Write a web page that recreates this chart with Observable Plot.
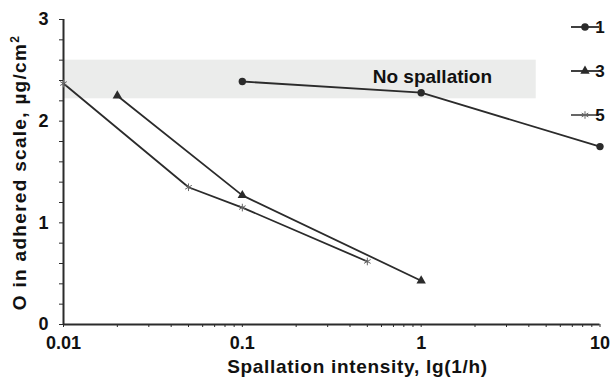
<!DOCTYPE html>
<html>
<head>
<meta charset="utf-8">
<script src="https://cdn.jsdelivr.net/npm/d3@7"></script>
<script src="https://cdn.jsdelivr.net/npm/@observablehq/plot@0.6"></script>
<style>
  html, body { margin: 0; padding: 0; background: #fff; }
</style>
</head>
<body>
<div id="chart"></div>
<script>
// Series 1 (circles)
const s1X = [0.1, 1, 10];
const s1Y = [2.39, 2.28, 1.75];
// Series 3 (triangles)
const s3X = [0.02, 0.1, 1];
const s3Y = [2.25, 1.27, 0.43];
// Series 5 (asterisks)
const s5X = [0.01, 0.05, 0.1, 0.5];
const s5Y = [2.37, 1.35, 1.15, 0.62];
// Legend labels
const seriesNames = ["1", "3", "5"];
// "No spallation" band
const bandX = [0.01, 4.4];
const bandY = [2.22, 2.6];
const bandLabel = "No spallation";
// Axis ticks
const yTicks = [0, 1, 2, 3];
const yMinor = [0.2, 0.4, 0.6, 0.8, 1.2, 1.4, 1.6, 1.8, 2.2, 2.4, 2.6, 2.8];
const xTicks = [0.01, 0.1, 1, 10];
const xMinor = [0.02,0.03,0.04,0.05,0.06,0.07,0.08,0.09,0.2,0.3,0.4,0.5,0.6,0.7,0.8,0.9,2,3,4,5,6,7,8,9];
const xTitle = "Spallation intensity, lg(1/h)";
const yTitle = "O in adhered scale, µg/cm";
const yTitleSup = "2";

const mk = (xs, ys, s) => xs.map((x, i) => ({x, y: ys[i], s}));
const d1 = mk(s1X, s1Y, seriesNames[0]);
const d3s = mk(s3X, s3Y, seriesNames[1]);
const d5 = mk(s5X, s5Y, seriesNames[2]);

const ink = "#2b2b2b";
const FONT = "'Liberation Sans', Arial, sans-serif";

const plot = Plot.plot({
  width: 611,
  height: 385,
  marginLeft: 63,
  marginRight: 11.5,
  marginTop: 19,
  marginBottom: 61,
  style: {fontFamily: FONT, fontWeight: "bold", fontSize: "18px", color: "#111", background: "#fff"},
  x: {type: "log", domain: [0.01, 10]},
  y: {domain: [0, 3]},
  marks: [
    Plot.rect([{x1: bandX[0], x2: bandX[1], y1: bandY[0], y2: bandY[1]}], {x1: "x1", x2: "x2", y1: "y1", y2: "y2", fill: "#ebeceb"}),
    Plot.text([bandLabel], {x: 0.536, y: 2.44, text: d => d, textAnchor: "start", fontSize: 19, fontWeight: "bold", fill: "#111"}),
    Plot.axisY({ticks: yMinor, tickSize: 4, text: null, stroke: ink, label: null}),
    Plot.axisY({ticks: yTicks, tickSize: 4, tickPadding: 11, stroke: ink, fontSize: 18, fontWeight: "bold", tickFormat: d => String(d), label: null}),
    Plot.axisX({ticks: xMinor, tickSize: 3, text: null, stroke: ink, label: null}),
    Plot.axisX({ticks: xTicks, tickSize: 3, tickPadding: 9, stroke: ink, fontSize: 18, fontWeight: "bold", tickFormat: d => String(d), label: null}),
    Plot.ruleX([0.01], {y1: 0, y2: 3, stroke: ink, strokeWidth: 2}),
    Plot.ruleY([0], {x1: 0.01, x2: 10, stroke: ink, strokeWidth: 2}),
    Plot.line(d1, {x: "x", y: "y", stroke: ink, strokeWidth: 1.8}),
    Plot.line(d3s, {x: "x", y: "y", stroke: ink, strokeWidth: 1.8}),
    Plot.line(d5, {x: "x", y: "y", stroke: ink, strokeWidth: 1.8}),
    Plot.dot(d1, {x: "x", y: "y", symbol: "circle", r: 3.7, fill: ink, stroke: "none"}),
    Plot.dot(d3s, {x: "x", y: "y", symbol: "triangle", r: 3.5, fill: ink, stroke: "none"}),
    Plot.dot(d5, {x: "x", y: "y", symbol: "asterisk", r: 3.6, fill: "none", stroke: "#666", strokeWidth: 1})
  ]
});

const svg = d3.select(plot);

// Axis titles
svg.append("text")
  .attr("x", 357.5).attr("y", 373)
  .attr("text-anchor", "middle")
  .attr("font-family", FONT).attr("font-weight", "bold").attr("font-size", 19)
  .attr("letter-spacing", "0.7px").attr("fill", "#111")
  .text(xTitle);

const yt = svg.append("text")
  .attr("transform", "translate(26,172.5) rotate(-90)")
  .attr("text-anchor", "middle")
  .attr("font-family", FONT).attr("font-weight", "bold").attr("font-size", 19)
  .attr("letter-spacing", "1.3px").attr("fill", "#111");
yt.append("tspan").text(yTitle);
yt.append("tspan").attr("font-size", 12).attr("dy", -7).text(yTitleSup);

// Legend (top right)
const legendRows = [
  {name: seriesNames[0], symbol: d3.symbolCircle, size: 45, fill: ink, stroke: "none", lineColor: ink},
  {name: seriesNames[1], symbol: d3.symbolTriangle, size: 38, fill: ink, stroke: "none", lineColor: ink},
  {name: seriesNames[2], symbol: d3.symbolAsterisk, size: 40, fill: "none", stroke: "#666", lineColor: "#555"}
];
const lg = svg.append("g").attr("transform", "translate(571,27)");
legendRows.forEach((r, i) => {
  const g = lg.append("g").attr("transform", `translate(0,${i * 44})`);
  g.append("line").attr("x1", 0).attr("x2", 28).attr("y1", 0).attr("y2", 0)
    .attr("stroke", r.lineColor).attr("stroke-width", 1.8);
  g.append("path").attr("d", d3.symbol(r.symbol, r.size)()).attr("transform", "translate(14,0)")
    .attr("fill", r.fill).attr("stroke", r.stroke).attr("stroke-width", 1);
  g.append("text").attr("x", 29).attr("y", 0).attr("dy", "0.36em")
    .attr("font-family", FONT).attr("font-size", 17).attr("font-weight", "bold").attr("fill", "#111").text(r.name);
});

document.getElementById("chart").appendChild(plot);
</script>
</body>
</html>
